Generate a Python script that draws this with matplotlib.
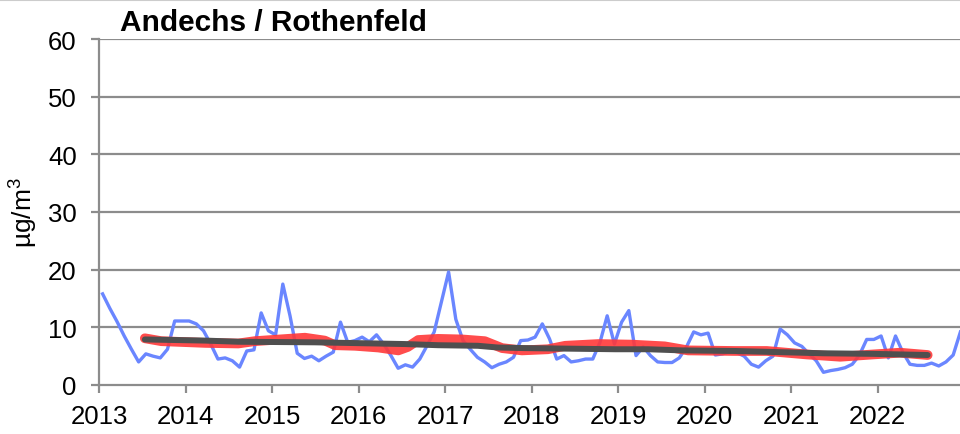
import matplotlib.pyplot as plt
import numpy as np
from matplotlib.lines import Line2D

plt.rcParams['font.family'] = ['Liberation Sans', 'DejaVu Sans']
plt.rcParams['mathtext.fontset'] = 'custom'
plt.rcParams['mathtext.rm'] = 'Liberation Sans'
plt.rcParams['mathtext.default'] = 'regular'

# Monatswerte 2013-2022 (blau)
monatswerte = [
    15.8, 13.3, 11.0, 8.5, 6.2, 4.0, 5.4, 5.0, 4.7, 6.2, 11.1, 11.1,
    11.1, 10.6, 9.4, 7.1, 4.5, 4.7, 4.2, 3.1, 5.9, 6.1, 12.5, 9.4,
    8.7, 17.5, 12.0, 5.5, 4.6, 5.0, 4.2, 5.0, 5.7, 10.9, 7.4, 7.7,
    8.3, 7.5, 8.7, 7.1, 5.1, 2.9, 3.5, 3.1, 4.5, 6.8, 9.2, 14.4,
    19.6, 11.4, 7.7, 6.2, 4.8, 4.0, 3.0, 3.6, 4.0, 4.8, 7.7, 7.8,
    8.3, 10.6, 8.0, 4.5, 5.1, 4.0, 4.2, 4.5, 4.5, 7.4, 12.0, 7.1,
    10.9, 12.9, 5.1, 6.6, 5.1, 4.0, 3.9, 3.9, 4.7, 6.6, 9.2, 8.7,
    9.0, 5.2, 5.4, 5.8, 5.6, 5.0, 3.6, 3.1, 4.2, 5.0, 9.7, 8.7,
    7.3, 6.7, 5.4, 4.2, 2.2, 2.5, 2.7, 3.0, 3.6, 5.2, 7.9, 7.9,
    8.5, 4.7, 8.5, 5.7, 3.6, 3.4, 3.4, 3.8, 3.3, 4.0, 5.2, 9.2,
]
monate = 2013 + (np.arange(len(monatswerte)) + 0.5) / 12

# gleitendes Mittel (rot)
mittel_t = [2013.53, 2013.72, 2014.23, 2014.61, 2014.80, 2015.38, 2015.61, 2015.73,
            2015.96, 2016.23, 2016.46, 2016.57, 2016.69, 2016.92, 2017.20, 2017.46,
            2017.66, 2017.89, 2018.19, 2018.39, 2018.77, 2019.16, 2019.54, 2019.81,
            2020.35, 2020.72, 2021.18, 2021.57, 2021.95, 2022.26, 2022.58]
mittel_v = [8.1, 7.6, 7.3, 7.2, 7.6, 8.2, 7.7, 6.9,
            6.8, 6.5, 6.0, 6.6, 7.8, 8.0, 7.9, 7.6,
            6.4, 6.0, 6.2, 6.8, 7.1, 7.0, 6.7, 6.0,
            5.9, 5.9, 5.3, 4.9, 5.3, 5.6, 5.2]

# Trend (grau)
trend_t = [2013.53, 2014.23, 2014.61, 2015.50, 2016.54, 2016.92, 2017.38, 2017.61,
           2017.92, 2018.97, 2019.35, 2019.74, 2020.35, 2021.37, 2021.95, 2022.58]
trend_v = [7.9, 7.7, 7.5, 7.4, 7.1, 6.9, 6.8, 6.5,
           6.4, 6.2, 6.2, 6.0, 5.9, 5.5, 5.4, 5.2]

jahre = list(range(2013, 2023))
y_ticks = [0, 10, 20, 30, 40, 50, 60]

fig = plt.figure(figsize=(9.6, 4.35), dpi=100)
ax = fig.add_axes([99 / 960, 1 - 386 / 435, 1 - 99 / 960, (386 - 40) / 435])

grau = '#8c8c8c'
for y in y_ticks[1:]:
    ax.axhline(y, color=grau, lw=1.6, zorder=1)

ax.plot(monate, monatswerte, color='#6a86ff', lw=2.4, zorder=2)
ax.plot(mittel_t, mittel_v, color='#ff3838', lw=7, alpha=0.9,
        solid_capstyle='round', solid_joinstyle='round', zorder=3)
ax.plot(trend_t, trend_v, color='#4f4f4f', lw=4.3,
        solid_capstyle='round', solid_joinstyle='round', zorder=4)

ax.set_xlim(2013, 2013 + 861 / 86.5)
ax.set_ylim(0, 60)
ax.set_xticks(jahre)
ax.set_xticklabels([str(j) for j in jahre])
ax.set_yticks(y_ticks)

for s in ['top', 'right']:
    ax.spines[s].set_visible(False)
for s in ['left', 'bottom']:
    ax.spines[s].set_color(grau)
    ax.spines[s].set_linewidth(1.6)

ax.tick_params(axis='both', colors=grau, length=6, width=1.6,
               labelcolor='black', labelsize=18.5)
ax.tick_params(axis='y', pad=10)
ax.tick_params(axis='x', pad=8)

ax.set_ylabel('µg/m$^3$', fontsize=19, labelpad=6)

fig.text(120 / 960, 1 - 31 / 435, 'Andechs / Rothenfeld', fontsize=21.5,
         fontweight='bold', va='baseline', ha='left')

# heller Rahmen oben
fig.add_artist(Line2D([0, 1], [0.998, 0.998], color='#cccccc', lw=1.5,
                      transform=fig.transFigure))

fig.savefig('out.png', dpi=100)
